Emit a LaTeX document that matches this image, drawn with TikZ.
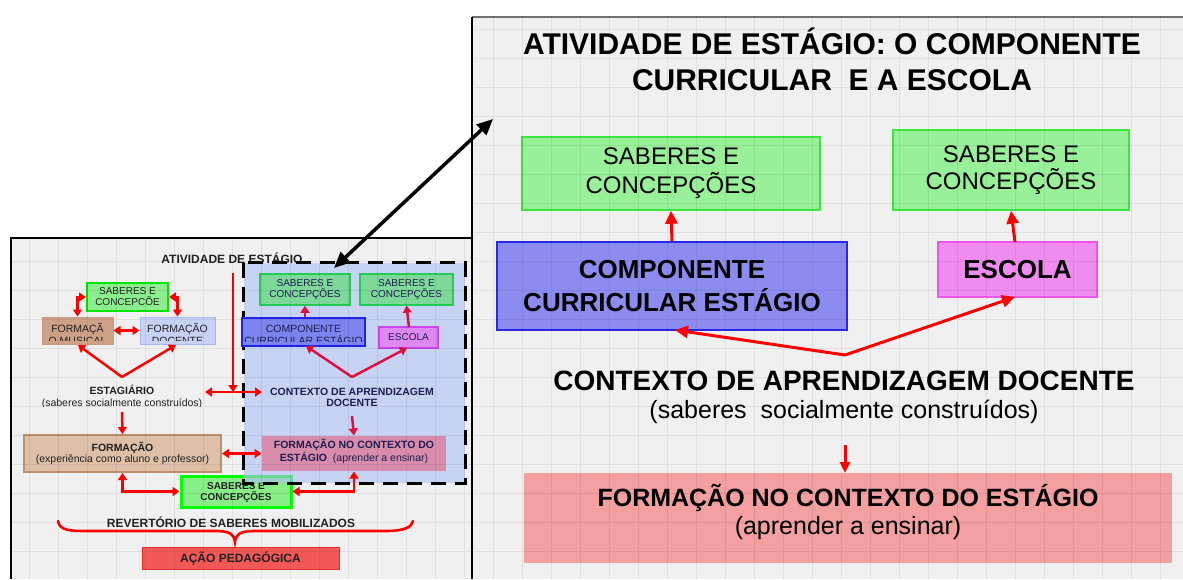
\documentclass[tikz,border=0pt]{standalone}
\usepackage{fontspec}
\setmainfont{Liberation Sans}
\usetikzlibrary{arrows.meta}
\definecolor{panelbg}{HTML}{F0F0F0}
\definecolor{greenF}{HTML}{98F098}
\definecolor{greenD}{HTML}{3CE63C}
\definecolor{blueF}{HTML}{8C8CF0}
\definecolor{blueD}{HTML}{2828E6}
\definecolor{magF}{HTML}{F08CF0}
\definecolor{magD}{HTML}{EE55EE}
\definecolor{redF}{HTML}{F4A0A0}
\definecolor{tlgF}{HTML}{8CEE8C}
\definecolor{tlgD}{HTML}{00E600}
\definecolor{brownF}{HTML}{CFA088}
\definecolor{brownD}{HTML}{C89A80}
\definecolor{docF}{HTML}{C8D2F6}
\definecolor{docD}{HTML}{A8B8F0}
\definecolor{dashF}{HTML}{ADC0F5}
\definecolor{sgF}{HTML}{7ED89A}
\definecolor{sgD}{HTML}{22CC55}
\definecolor{sbF}{HTML}{7C84EE}
\definecolor{sbD}{HTML}{2222EE}
\definecolor{smF}{HTML}{E088F2}
\definecolor{smD}{HTML}{CC44EE}
\definecolor{srF}{HTML}{D88CAC}
\definecolor{bbF}{HTML}{DEC0A8}
\definecolor{bbD}{HTML}{C0906E}
\definecolor{lgF}{HTML}{88EE88}
\definecolor{lgD}{HTML}{00FF00}
\definecolor{acaoF}{HTML}{F25858}
\definecolor{acaoD}{HTML}{E83030}
\definecolor{crim}{HTML}{DD1144}
\definecolor{navy}{HTML}{1E1E50}
\definecolor{txtL}{HTML}{222222}
\tikzset{
  boxR/.style={draw, line width=1.5pt, align=center, inner sep=0pt},
  boxL/.style={draw, line width=1pt, align=center, inner sep=0pt},
  tL/.style={align=center, inner sep=0pt, text=txtL, font=\fontsize{10.5}{11.5}\selectfont},
  gridline/.style={black, opacity=0.07, line width=0.7pt},
  arrR/.style={red, line width=3pt, -{Triangle[length=13pt,width=12pt]}},
  arrL/.style={red, line width=2.5pt, -{Triangle[length=7pt,width=9pt]}},
  dblL/.style={red, line width=2.5pt, {Triangle[length=7pt,width=9pt]}-{Triangle[length=7pt,width=9pt]}},
  arrC/.style={crim, line width=2.5pt, -{Triangle[length=7pt,width=9pt]}},
  blk/.style={black, line width=3.5pt, {Triangle[length=16pt,width=14pt]}-{Triangle[length=16pt,width=14pt]}},
}
\begin{document}
\begin{tikzpicture}[x=1pt,y=-1pt]
\useasboundingbox (0,0) rectangle (1183,579);
\fill[white] (0,0) rectangle (1183,579);
% ---------- right panel ----------
\fill[panelbg] (472,17) rectangle (1183,579);
\draw[black!55, line width=2pt] (472,17) -- (1183,17);
\node[align=center, inner sep=0pt, font=\bfseries\fontsize{30}{36}\selectfont] (titR) at (832,59) {ATIVIDADE DE ESTÁGIO: O COMPONENTE\\CURRICULAR\ \ E A ESCOLA};
\node[boxR, fill=greenF, draw=greenD, minimum width=298pt, minimum height=73pt, font=\fontsize{24}{29}\selectfont] (g1R) at (671,173.5) {SABERES E\\CONCEPÇÕES};
\node[boxR, fill=greenF, draw=greenD, minimum width=236pt, minimum height=80pt, font=\fontsize{24}{27}\selectfont] (g2R) at (1011,170) {SABERES E\\CONCEPÇÕES};
\node[boxR, fill=blueF, draw=blueD, minimum width=350pt, minimum height=88pt, font=\bfseries\fontsize{26}{32.5}\selectfont] (cbR) at (672,286) {COMPONENTE\\CURRICULAR ESTÁGIO};
\node[boxR, fill=magF, draw=magD, minimum width=159pt, minimum height=55pt, font=\bfseries\fontsize{26}{30}\selectfont] (escR) at (1017.5,269.5) {ESCOLA};
\node[inner sep=0pt, font=\bfseries\fontsize{28}{33}\selectfont] (ctxR) at (844,381) {CONTEXTO DE APRENDIZAGEM DOCENTE};
\node[inner sep=0pt, font=\fontsize{25}{30}\selectfont] (ctxRs) at (844,412) {(saberes\ \ socialmente construídos)};
\node[boxR, draw=none, fill=redF, minimum width=648pt, minimum height=90pt] (redR) at (848,518) {};
\node[inner sep=0pt, font=\bfseries\fontsize{25}{30}\selectfont] (redRT) at (848,498) {FORMAÇÃO NO CONTEXTO DO ESTÁGIO};
\node[inner sep=0pt, font=\fontsize{25}{30}\selectfont] (redRs) at (848,528) {(aprender a ensinar)};
\coordinate (apR) at (845,355);
\coordinate (dnR) at (845,445);
\draw[arrR] (cbR.north) -- (g1R.south);
\draw[arrR] (1015,242) -- (g2R.south);
\draw[arrR, line cap=round] (apR) -- (675,330);
\draw[arrR] (apR) -- (1015,297);
\draw[red, line width=3pt, -{Triangle[length=11pt,width=10pt]}] (dnR) -- (845,473);
% ---------- left panel ----------
\fill[panelbg] (11,238) rectangle (472,579);
\node[inner sep=0pt, text=txtL, font=\bfseries\fontsize{12}{14}\selectfont] (titL) at (232,258) {ATIVIDADE DE ESTÁGIO};
\node[boxL, fill=tlgF, draw=tlgD, line width=2pt, minimum width=81pt, minimum height=28pt, font=\fontsize{10}{11}\selectfont, text=txtL] (tlg) at (127.5,297) {SABERES E\\CONCEPCÕE};
\node[boxL, fill=brownF, draw=brownD, minimum width=71pt, minimum height=27pt] (fm) at (77.5,330.5) {};
\begin{scope}
  \clip (42,319) rectangle (113,340);
  \node[tL] (fmT) at (77.5,333.7) {FORMAÇÃ\\O MUSICAL};
\end{scope}
\node[boxL, fill=docF, draw=docD, minimum width=75pt, minimum height=27pt] (fd) at (177.5,330.5) {};
\begin{scope}
  \clip (140,319) rectangle (215,340);
  \node[tL] (fdT) at (177.5,333.7) {FORMAÇÃO\\DOCENTE};
\end{scope}
\begin{scope}
  \clip (20,380) rectangle (230,406);
  \node[tL] (est) at (122,397) {{\bfseries ESTAGIÁRIO}\\(saberes socialmente construídos)};
\end{scope}
\node[boxL, fill=bbF, draw=bbD, line width=2pt, minimum width=197pt, minimum height=37pt] (bigF) at (122.5,453.5) {};
\node[tL] (bigFT) at (122.5,453.5) {{\bfseries FORMAÇÃO}\\(experiência como aluno e professor)};
% lower green (under dashed box)
\node[boxL, fill=lgF, draw=lgD, line width=3pt, minimum width=110pt, minimum height=31pt] (lowG) at (236,491.5) {};
\begin{scope}
  \clip (184,479) rectangle (288,502);
  \node[tL, font=\bfseries\fontsize{10}{11.5}\selectfont] (lowGT) at (236,492.5) {SABERES E\\CONCEPÇÕES};
\end{scope}
% dashed box
\node[draw=none, fill=dashF, fill opacity=0.6, minimum width=221pt, minimum height=220pt, inner sep=0pt] (dbox) at (354.5,373) {};
\draw[black, line width=3pt, dash pattern=on 15pt off 9pt] (dbox.north west) rectangle (dbox.south east);
\node[boxL, fill=sgF, draw=sgD, line width=1.5pt, minimum width=90pt, minimum height=31pt, font=\fontsize{10}{11}\selectfont, text=navy] (g1S) at (305,289.5) {SABERES E\\CONCEPÇÕES};
\node[boxL, fill=sgF, draw=sgD, line width=1.5pt, minimum width=93pt, minimum height=31pt, font=\fontsize{10}{11}\selectfont, text=navy] (g2S) at (406.5,289.5) {SABERES E\\CONCEPÇÕES};
\node[boxL, fill=sbF, draw=sbD, line width=1.5pt, minimum width=123pt, minimum height=28pt] (cbS) at (303.5,332) {};
\begin{scope}
  \clip (244,320) rectangle (363,341);
  \node[tL, text=navy] (cbST) at (303.5,334.7) {COMPONENTE\\CURRICULAR ESTÁGIO};
\end{scope}
\node[boxL, fill=smF, draw=smD, line width=1.5pt, minimum width=59pt, minimum height=21pt, font=\fontsize{10}{11}\selectfont, text=navy] (escS) at (408.5,337.5) {ESCOLA};
\node[tL, text=navy, font=\bfseries\fontsize{10.5}{11.5}\selectfont] (ctxS) at (352,397.5) {CONTEXTO DE APRENDIZAGEM\\DOCENTE};
\node[boxL, draw=none, fill=srF, minimum width=184pt, minimum height=35pt] (redS) at (354,453.5) {};
\node[tL, text=navy, font=\bfseries\fontsize{10.5}{13}\selectfont] (redST) at (354,451.5) {FORMAÇÃO NO CONTEXTO DO\\ESTÁGIO\ \ {\mdseries (aprender a ensinar)}};
% bottom texts
\node[inner sep=0pt, text=txtL, font=\bfseries\fontsize{12}{14}\selectfont] (rev) at (231,522) {REVERTÓRIO DE SABERES MOBILIZADOS};
\node[boxL, fill=acaoF, draw=acaoD, minimum width=197pt, minimum height=22pt, text=txtL, font=\bfseries\fontsize{12}{14}\selectfont] (acao) at (240.5,558) {AÇÃO PEDAGÓGICA};
% left arrows
\coordinate (apL) at (122,377);
\coordinate (vtop) at (233,273);
\coordinate (junc) at (233,392);
\coordinate (estR) at (205,392);
\coordinate (ctxL) at (262,392);
\coordinate (estB) at (122,412);
\draw[dblL] (tlg.west) -| (fm.north);
\draw[dblL] (tlg.east) -| (fd.north);
\draw[dblL] (fm.east) -- (fd.west);
\draw[arrL] (apL) -- (78,345);
\draw[arrL] (apL) -- (176,345);
\draw[arrL] (vtop) -- (junc);
\draw[dblL] (estR) -- (ctxL);
\draw[arrL] (estB) -- (bigF.north);
\draw[dblL] (bigF.east) -- (redS.west);
\draw[dblL] (bigF.south) |- (lowG.west);
\draw[dblL] (redS.south) |- (lowG.east);
\coordinate (apS) at (352,377);
\coordinate (ctxSB) at (352,416);
\draw[arrC] (g1S.south |- cbS.north) -- (g1S.south);
\draw[arrC] (409,327) -- (g2S.south);
\draw[arrC] (apS) -- (306,346);
\draw[arrC] (apS) -- (407,348);
\draw[arrC] (ctxSB) -- (redS.north);
% brace
\draw[red, line width=2.6pt, line cap=round] (58,521) .. controls (60,531) and (70,531) .. (90,531) -- (215,531) .. controls (230,531) and (234,534) .. (235,542) .. controls (236,534) and (240,531) .. (255,531) -- (385,531) .. controls (405,531) and (412,527) .. (413,521);
% grids
\begin{scope}
  \clip (472,17) rectangle (1183,579);
  \draw[gridline] (472,17) grid[step=29pt] (1183,579);
\end{scope}
\begin{scope}
  \clip (11,238) rectangle (472,579);
  \draw[gridline] (11,238) grid[step=29pt] (472,579);
\end{scope}
% panel borders
\draw[black, line width=1.2pt] (472,17) -- (472,579);
\draw[black, line width=1.5pt] (11,579) -- (11,238) -- (472,238);
% link arrow
\coordinate (lkA) at (334,268);
\coordinate (lkB) at (493,119);
\draw[blk] (lkA) -- (lkB);
\end{tikzpicture}
\end{document}
